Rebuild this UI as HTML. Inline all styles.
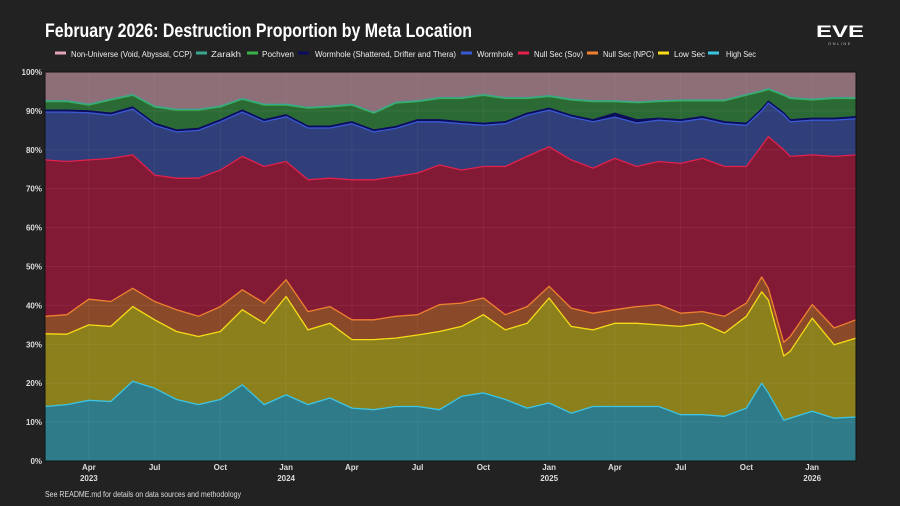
<!DOCTYPE html>
<html><head><meta charset="utf-8">
<style>
html,body{margin:0;padding:0;background:#222222;}
svg{display:block;font-family:"Liberation Sans",sans-serif;}
</style></head>
<body>
<svg id="chart" width="900" height="506" viewBox="0 0 900 506" xmlns="http://www.w3.org/2000/svg">
<rect x="0" y="0" width="900" height="506" fill="#222222"/>
<text x="45" y="37" fill="#ffffff" font-size="19" font-weight="bold" textLength="427" lengthAdjust="spacingAndGlyphs">February 2026: Destruction Proportion by Meta Location</text>
<g>
<text x="840" y="37" fill="#ffffff" font-size="17" font-weight="bold" text-anchor="middle" textLength="48" lengthAdjust="spacingAndGlyphs">EVE</text>
<text x="840" y="45" fill="#bbbbbb" font-size="4" text-anchor="middle" letter-spacing="1.5">ONLINE</text>
</g>
<g id="legend"></g>
<g id="plot"></g>
<g id="axes"></g>
<text x="45" y="497" fill="#dddddd" font-size="8" textLength="196" lengthAdjust="spacingAndGlyphs">See README.md for details on data sources and methodology</text>
</svg>
<script>
// months since Feb 1 2023
const months = [0,1,2,3,4,5,6,7,8,9,10,11,12,13,14,15,16,17,18,19,20,21,22,23,24,25,26,27,28,29,30,31,32,32.7,33,33.7,34,35,36,37];
const highSec = [14.0,14.5,15.6,15.3,20.5,18.7,15.8,14.5,15.8,19.6,14.5,17.0,14.5,16.2,13.6,13.2,14.0,14.0,13.2,16.6,17.5,15.8,13.6,14.9,12.3,14.0,14.0,14.0,14.0,11.9,11.9,11.5,13.6,20.0,17.5,10.5,11.0,12.8,11.0,11.3];
const lowSec = [18.7,18.1,19.4,19.3,19.2,17.6,17.5,17.5,17.5,19.3,20.9,25.3,19.2,19.2,17.6,18.0,17.6,18.4,20.1,18.0,20.1,17.9,21.8,27.0,22.3,19.7,21.4,21.4,21.0,22.7,23.5,21.4,23.6,23.5,23.9,16.5,17.2,23.9,18.9,20.3];
const nullSecNpc = [4.5,5.0,6.6,6.4,4.7,4.7,5.6,5.2,6.4,5.1,5.2,4.3,4.7,4.3,5.1,5.1,5.6,5.2,6.9,6.0,4.3,3.9,4.3,3.0,4.7,4.3,3.5,4.3,5.2,3.4,3.0,4.3,3.4,3.8,3.0,3.5,3.8,3.5,4.3,4.7];
const nullSecSov = [40.2,39.4,35.8,36.8,34.3,32.5,33.8,35.5,35.1,34.3,35.1,30.4,33.9,33.0,36.0,36.0,35.9,36.4,35.9,34.2,33.8,38.1,38.6,35.9,38.1,37.3,38.9,36.0,36.8,38.5,39.4,38.5,35.1,33.7,39.0,49.5,46.3,38.5,44.1,42.4];
const wormhole = [12.3,12.7,12.1,11.1,11.8,12.8,11.9,12.3,12.4,11.4,11.5,11.5,13.3,12.9,14.4,12.3,12.4,13.2,11.1,11.9,10.6,11.0,10.6,9.4,11.0,11.9,10.6,11.2,10.6,10.7,10.2,11.0,10.6,9.0,8.6,9.0,8.9,8.9,9.3,9.3];
const wormholeShattered = [0.5,0.5,0.5,0.5,0.5,0.5,0.5,0.5,0.5,0.5,0.5,0.5,0.5,0.5,0.5,0.5,0.5,0.5,0.5,0.5,0.5,0.5,0.5,0.5,0.5,0.5,1.0,0.8,0.5,0.5,0.5,0.5,0.5,0.5,0.5,0.5,0.5,0.5,0.5,0.5];
const pochven = [2.2,2.2,1.5,3.4,3.0,4.2,5.1,4.7,3.3,2.8,3.8,2.5,4.6,4.9,4.3,4.3,6.0,4.7,5.5,6.0,7.2,6.0,3.8,3.0,3.9,4.7,3.0,4.4,4.3,4.9,4.1,5.4,7.2,4.5,3.0,4.5,5.5,4.7,5.1,4.7];
const zarakh = [0.2,0.2,0.2,0.2,0.2,0.2,0.2,0.2,0.2,0.2,0.2,0.2,0.2,0.2,0.2,0.2,0.2,0.2,0.2,0.2,0.2,0.2,0.2,0.2,0.2,0.2,0.2,0.2,0.2,0.2,0.2,0.2,0.2,0.2,0.2,0.2,0.2,0.2,0.2,0.2];
const yTicks = [0,10,20,30,40,50,60,70,80,90,100];
const xTickMonths = [2,5,8,11,14,17,20,23,26,29,32,35];
const xTickLabels = ["Apr","Jul","Oct","Jan","Apr","Jul","Oct","Jan","Apr","Jul","Oct","Jan"];
const xTickYears = ["2023","","","2024","","","","2025","","","","2026"];

const NS="http://www.w3.org/2000/svg";
const L=45,R=856,T=72,B=461,M0=0,M1=37;
const xs=m=>L+(m-M0)/(M1-M0)*(R-L);
const ys=v=>B-v/100*(B-T);
function mk(tag,attrs,parent){const e=document.createElementNS(NS,tag);for(const k in attrs)e.setAttribute(k,attrs[k]);parent.appendChild(e);return e;}

const nonUniverse = months.map((_,i)=>Math.max(0,100-highSec[i]-lowSec[i]-nullSecNpc[i]-nullSecSov[i]-wormhole[i]-wormholeShattered[i]-pochven[i]-zarakh[i]));
const series=[
 {key:"high-sec",vals:highSec,fill:"#2f7b89",line:"#3cc4e4"},
 {key:"low-sec",vals:lowSec,fill:"#8c801d",line:"#f7dc17"},
 {key:"null-sec-npc",vals:nullSecNpc,fill:"#8a4a29",line:"#f08030"},
 {key:"null-sec-sov",vals:nullSecSov,fill:"#831a35",line:"#e2204c"},
 {key:"wormhole",vals:wormhole,fill:"#303f79",line:"#3a5ad4"},
 {key:"wormhole-shattered",vals:wormholeShattered,fill:"#0c0c55",line:"#0c0c60"},
 {key:"pochven",vals:pochven,fill:"#2c6a35",line:"#3ab04a"},
 {key:"zarakh",vals:zarakh,fill:"#2f7a6e",line:"#3aa68f"},
 {key:"non-universe",vals:nonUniverse,fill:"#8e6e77",line:"#e4a4bc"}
];
const plot=document.getElementById('plot');
let base=months.map(()=>0);
const tops=[];
series.forEach(s=>{
 const top=base.map((b,i)=>b+s.vals[i]);
 let d="M"+months.map((m,i)=>xs(m).toFixed(1)+","+ys(top[i]).toFixed(1)).join("L");
 for(let i=months.length-1;i>=0;i--)d+="L"+xs(months[i]).toFixed(1)+","+ys(base[i]).toFixed(1);
 const p=mk('path',{d:d+"Z",fill:s.fill},plot);
 
 
 tops.push({s,top});
 base=top;
});
// gridlines
yTicks.forEach(v=>{
 const g=mk('line',{x1:L,x2:R,y1:ys(v),y2:ys(v),stroke:"rgba(255,255,255,0.06)","stroke-width":1},plot);
 
 
});
xTickMonths.forEach(m=>{
 const g=mk('line',{x1:xs(m),x2:xs(m),y1:T,y2:B,stroke:"rgba(255,255,255,0.05)","stroke-width":1},plot);
 
 
});
tops.forEach(({s,top})=>{
 if(s.key==="non-universe")return;
 const pl=mk('polyline',{points:months.map((m,i)=>xs(m).toFixed(1)+","+ys(top[i]).toFixed(1)).join(" "),fill:"none",stroke:s.line,"stroke-width":1.3,"stroke-linejoin":"round"},plot);
 
 
});
const ax=document.getElementById('axes');
const frame=mk('rect',{x:L,y:T,width:R-L,height:B-T,fill:"none",stroke:"#111","stroke-width":1},ax);


yTicks.forEach(v=>{
 const t=mk('text',{x:42,y:ys(v)+3,fill:"#dddddd","font-size":8,"text-anchor":"end","font-weight":"bold"},ax);
 t.textContent=v+"%";
 
 
});
xTickMonths.forEach((m,i)=>{
 const t=mk('text',{x:xs(m),y:470,fill:"#dddddd","font-size":8,"text-anchor":"middle","font-weight":"bold"},ax);
 t.textContent=xTickLabels[i];
 
 
 if(xTickYears[i]){
  const y=mk('text',{x:xs(m),y:481,fill:"#dddddd","font-size":8,"text-anchor":"middle","font-weight":"bold"},ax);
  y.textContent=xTickYears[i];
  
  
 }
});
// legend
const legendItems=[
 ["Non-Universe (Void, Abyssal, CCP)","#e4a4bc",55,71,121],
 ["Zarakh","#3aa68f",196,211,30],
 ["Pochven","#3ab04a",247,262,32],
 ["Wormhole (Shattered, Drifter and Thera)","#0c0c60",298,315,141],
 ["Wormhole","#3a5ad4",461,477,36],
 ["Null Sec (Sov)","#e2204c",518,534,49],
 ["Null Sec (NPC)","#f08030",587,603,51],
 ["Low Sec","#f7dc17",658,674,31],
 ["High Sec","#3cc4e4",708,726,30]
];
const lg=document.getElementById('legend');
legendItems.forEach(([label,col,sx,tx,tw])=>{
 const g=mk('g',{},lg);
 
 
 mk('rect',{x:sx,y:51.5,width:11,height:3,fill:col},g);
 const t=mk('text',{x:tx,y:57,fill:"#eeeeee","font-size":8,textLength:tw,lengthAdjust:"spacingAndGlyphs"},g);
 t.textContent=label;
});
</script>
</body></html>
